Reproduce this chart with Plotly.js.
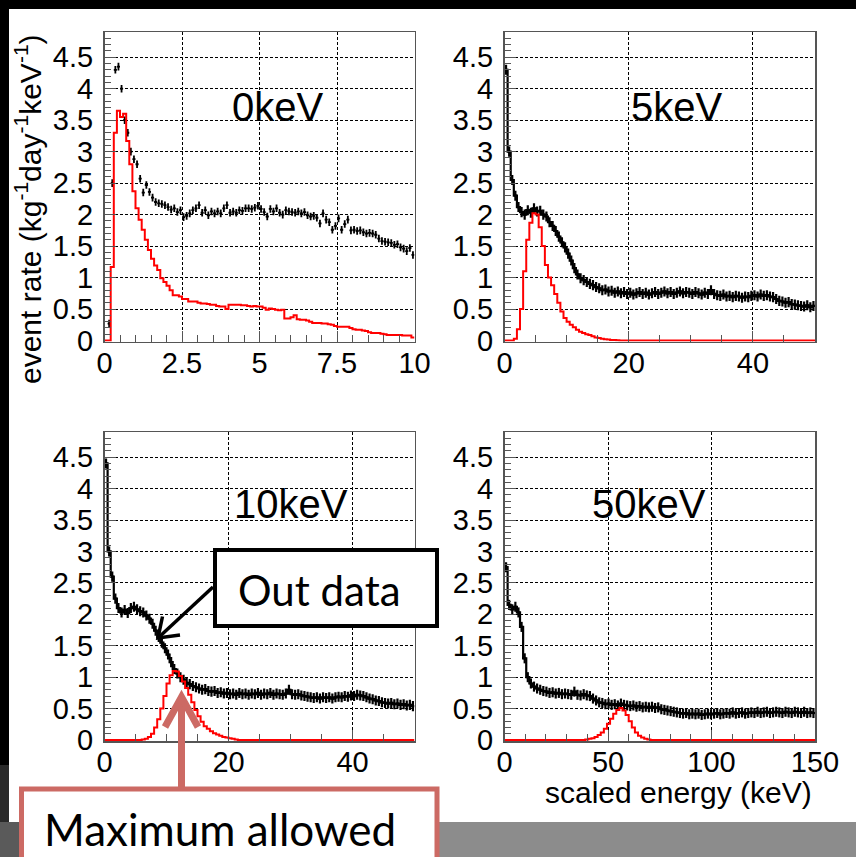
<!DOCTYPE html>
<html>
<head>
<meta charset="utf-8">
<script src="https://cdn.plot.ly/plotly-3.0.1.min.js"></script>
<style>
html,body{margin:0;padding:0;background:#000;}
#chart{width:856px;height:857px;}
</style>
</head>
<body>
<div id="chart"></div>
<script>
// ---------------- DATA ----------------
const panelLabels = ["0keV", "5keV", "10keV", "50keV"];
const binWidths = [0.1, 0.5, 0.5, 1.5];      // keV per bin
const xMaxima = [10, 50, 50, 150];            // keV
const xMajorTicks = [2.5, 20, 20, 50];
const xMinorTicks = [0.5, 5, 5, 10];
const blackErrors = [0.06, 0.08, 0.08, 0.08];

const black0keV = [null,0.27,2.5,4.3,4.35,4.0,3.5,3.3,3.0,2.88,
 2.8,2.57,2.35,2.47,2.36,2.27,2.2,2.18,2.17,2.15,
 2.12,2.08,2.1,2.04,2.07,1.96,1.98,2.02,2.07,2.1,
 2.15,2.03,2.07,1.99,2.05,2.02,2.05,2.02,2.1,2.15,
 2.03,2.05,2.03,2.07,2.06,2.1,2.1,2.09,2.11,2.14,
 2.09,2.04,1.97,2.09,2.05,2.1,2.03,2.0,2.07,2.05,
 2.04,2.03,2.05,2.02,2.04,1.99,1.97,1.98,1.95,1.86,
 2.02,1.92,1.88,1.76,1.82,1.94,1.76,1.85,1.92,1.75,
 1.76,1.74,1.75,1.72,1.7,1.71,1.7,1.68,1.62,1.58,
 1.57,1.56,1.55,1.52,1.53,1.48,1.46,1.42,1.47,1.36];
const red0keV = [0,0,1.17,3.3,3.65,3.55,3.6,3.17,2.8,2.37,
 2.1,1.92,1.76,1.6,1.44,1.3,1.19,1.12,0.99,0.93,
 0.87,0.8,0.72,0.72,0.7,0.66,0.66,0.62,0.62,0.62,
 0.6,0.59,0.59,0.58,0.57,0.57,0.55,0.54,0.54,0.5,
 0.57,0.57,0.57,0.57,0.56,0.56,0.55,0.54,0.55,0.54,
 0.54,0.52,0.49,0.51,0.5,0.49,0.48,0.49,0.35,0.35,
 0.37,0.4,0.34,0.33,0.33,0.32,0.3,0.28,0.28,0.28,
 0.27,0.27,0.26,0.25,0.23,0.22,0.22,0.22,0.22,0.2,
 0.18,0.17,0.17,0.16,0.15,0.13,0.12,0.12,0.12,0.11,
 0.1,0.09,0.09,0.09,0.09,0.09,0.08,0.08,0.08,0.05];

const black5keV = [4.3,3.0,2.55,2.3,2.12,2.04,2.0,2.07,2.03,2.1,
 2.05,2.06,2.0,1.97,1.88,1.82,1.74,1.65,1.56,1.48,
 1.38,1.27,1.15,1.05,0.99,0.96,0.93,0.9,0.88,0.85,
 0.83,0.8,0.81,0.78,0.79,0.76,0.78,0.75,0.77,0.74,
 0.76,0.73,0.75,0.77,0.74,0.76,0.73,0.75,0.77,0.74,
 0.76,0.78,0.75,0.77,0.74,0.76,0.78,0.75,0.77,0.76,
 0.74,0.77,0.75,0.73,0.76,0.74,0.8,0.74,0.72,0.71,
 0.73,0.7,0.71,0.69,0.71,0.7,0.68,0.7,0.69,0.71,
 0.72,0.7,0.73,0.71,0.72,0.7,0.69,0.66,0.63,0.62,
 0.6,0.61,0.58,0.57,0.56,0.55,0.54,0.56,0.53,0.55];
const red5keV = [0,0,0,0.03,0.18,0.5,1.1,1.6,1.87,2.02,
 2.0,1.8,1.5,1.2,1.0,0.88,0.74,0.6,0.46,0.36,
 0.3,0.25,0.21,0.17,0.14,0.12,0.1,0.09,0.07,0.05,
 0.04,0.03,0.02,0.015,0.01,0.01,0.005,0,0,0,
 0,0,0,0,0,0,0,0,0,0,
 0,0,0,0,0,0,0,0,0,0,
 0,0,0,0,0,0,0,0,0,0,
 0,0,0,0,0,0,0,0,0,0,
 0,0,0,0,0,0,0,0,0,0,
 0,0,0,0,0,0,0,0,0,0];

const black10keV = [4.4,3.0,2.6,2.25,2.1,2.03,2.07,2.02,2.1,2.12,
 2.08,2.05,2.03,1.98,1.93,1.85,1.74,1.64,1.55,1.46,
 1.36,1.24,1.13,1.06,1.0,0.96,0.91,0.89,0.86,0.84,
 0.82,0.8,0.81,0.78,0.77,0.78,0.75,0.76,0.74,0.75,
 0.73,0.74,0.72,0.75,0.73,0.74,0.72,0.74,0.73,0.75,
 0.72,0.74,0.73,0.75,0.72,0.74,0.73,0.72,0.74,0.8,
 0.73,0.72,0.73,0.71,0.7,0.69,0.68,0.67,0.68,0.66,
 0.68,0.67,0.68,0.66,0.68,0.69,0.68,0.7,0.69,0.71,
 0.7,0.72,0.71,0.7,0.68,0.66,0.65,0.63,0.62,0.6,
 0.59,0.58,0.59,0.57,0.58,0.56,0.57,0.55,0.56,0.54];
const red10keV = [0,0,0,0,0,0,0,0,0,0,
 0,0,0.01,0.02,0.05,0.1,0.2,0.33,0.5,0.7,
 0.9,1.03,1.1,1.09,1.02,0.93,0.83,0.72,0.6,0.48,
 0.38,0.29,0.22,0.18,0.14,0.11,0.09,0.07,0.05,0.04,
 0.03,0.02,0.01,0,0,0,0,0,0,0,
 0,0,0,0,0,0,0,0,0,0,
 0,0,0,0,0,0,0,0,0,0,
 0,0,0,0,0,0,0,0,0,0,
 0,0,0,0,0,0,0,0,0,0,
 0,0,0,0,0,0,0,0,0,0];

const black50keV = [2.75,2.15,2.08,2.12,2.03,1.8,1.3,1.0,0.9,0.85,
 0.82,0.8,0.78,0.77,0.75,0.76,0.74,0.75,0.73,0.74,
 0.73,0.72,0.77,0.72,0.71,0.73,0.71,0.7,0.66,0.63,
 0.6,0.59,0.57,0.58,0.56,0.57,0.55,0.58,0.56,0.55,
 0.54,0.55,0.53,0.54,0.52,0.53,0.52,0.53,0.51,0.52,
 0.49,0.48,0.47,0.46,0.45,0.44,0.43,0.42,0.43,0.41,
 0.42,0.41,0.42,0.4,0.41,0.42,0.41,0.42,0.43,0.41,
 0.42,0.43,0.42,0.44,0.42,0.43,0.44,0.42,0.43,0.44,
 0.43,0.45,0.43,0.44,0.45,0.43,0.44,0.45,0.44,0.43,
 0.45,0.44,0.43,0.45,0.44,0.43,0.45,0.43,0.44,0.43];
const red50keV = [0,0,0,0,0,0,0,0,0,0,
 0,0,0,0,0,0,0,0,0,0,
 0,0,0,0,0,0,0.01,0.02,0.03,0.05,
 0.08,0.12,0.18,0.26,0.34,0.42,0.48,0.51,0.47,0.4,
 0.3,0.2,0.12,0.07,0.04,0.02,0.01,0,0,0,
 0,0,0,0,0,0,0,0,0,0,
 0,0,0,0,0,0,0,0,0,0,
 0,0,0,0,0,0,0,0,0,0,
 0,0,0,0,0,0,0,0,0,0,
 0,0,0,0,0,0,0,0,0,0];

const blackSeries = [black0keV, black5keV, black10keV, black50keV];
const redSeries = [red0keV, red5keV, red10keV, red50keV];

const yTitle = "event rate (kg<sup>-1</sup>day<sup>-1</sup>keV<sup>-1</sup>)";
const xTitle = "scaled energy (keV)";
const boxOutText = "Out data";
const boxMaxText = "Maximum allowed";

// ---------------- LAYOUT HELPERS ----------------
const W = 856, H = 857;
const px = v => v / W;
const py = v => 1 - v / H;
// plot boxes in pixels [left, right, top, bottom]
const boxes = [[104.5, 414.5, 32, 341.5], [504.5, 815, 32, 341.5],
               [104.5, 414.5, 432, 741], [504.5, 815, 432, 741]];
const labelPos = [[277, 107], [676, 107], [291, 504], [649, 504]];
const barThickness = [1.8, 2.2, 2.2, 2.2];
const denseBand = [false, true, true, true];

const tickFont = {family: "Liberation Sans, Arial, sans-serif", size: 29, color: "#000"};
const frameColor = "#555";

const data = [];
const layout = {
  width: W, height: H,
  margin: {l: 0, r: 0, t: 0, b: 0},
  paper_bgcolor: "#000",
  plot_bgcolor: "#fff",
  showlegend: false,
  shapes: [],
  annotations: []
};

for (let i = 0; i < 4; i++) {
  const n = i === 0 ? "" : String(i + 1);
  const w = binWidths[i];
  const b = boxes[i];
  data.push({
    type: "scatter", mode: denseBand[i] ? "lines" : "markers",
    x0: w / 2, dx: w, y: blackSeries[i],
    xaxis: "x" + n, yaxis: "y" + n,
    marker: {size: 2, color: "#000"},
    line: {shape: "hvh", color: "#000", width: 2.2},
    error_x: {type: "constant", value: w / 2, width: 0, thickness: barThickness[i], color: "#000"},
    error_y: {type: "constant", value: blackErrors[i], width: 0, thickness: barThickness[i], color: "#000"},
    hoverinfo: "skip"
  });
  const r = redSeries[i];
  data.push({
    type: "scatter", mode: "lines",
    x0: 0, dx: w, y: r.concat([r[r.length - 1]]),
    xaxis: "x" + n, yaxis: "y" + n,
    line: {shape: "hv", color: "#ff0000", width: 2},
    hoverinfo: "skip"
  });
  layout["xaxis" + n] = {
    domain: [px(b[0]), px(b[1])], anchor: "y" + n,
    range: [0, xMaxima[i]], tick0: 0, dtick: xMajorTicks[i],
    ticks: "inside", ticklen: 11, tickwidth: 1, tickcolor: frameColor,
    minor: {dtick: xMinorTicks[i], ticks: "inside", ticklen: 7, tickwidth: 1, tickcolor: frameColor, showgrid: false},
    showline: true, linecolor: frameColor, linewidth: 1.5, mirror: true,
    showgrid: true, gridcolor: "#000", gridwidth: 1, griddash: "3px,2px",
    zeroline: false, tickfont: tickFont, ticklabelstandoff: -5, fixedrange: true
  };
  layout["yaxis" + n] = {
    domain: [py(b[3]), py(b[2])], anchor: "x" + n,
    range: [-0.015, 4.9], tick0: 0, dtick: 0.5,
    ticks: "inside", ticklen: 11, tickwidth: 1, tickcolor: frameColor,
    minor: {dtick: 0.1, ticks: "inside", ticklen: 6, tickwidth: 1, tickcolor: frameColor, showgrid: false},
    showline: true, linecolor: frameColor, linewidth: 1.5, mirror: true,
    showgrid: true, gridcolor: "#000", gridwidth: 1, griddash: "3px,2px",
    zeroline: false, tickfont: tickFont, ticklabelstandoff: 4, fixedrange: true
  };
  layout.annotations.push({
    xref: "paper", yref: "paper", x: px(labelPos[i][0]), y: py(labelPos[i][1]),
    xanchor: "center", yanchor: "middle", showarrow: false,
    text: panelLabels[i],
    font: {family: "Liberation Sans, Arial, sans-serif", size: 40, color: "#000"}
  });
}

// background pieces
layout.shapes.push(
  {type: "rect", xref: "paper", yref: "paper", x0: px(9), x1: 1, y0: py(822), y1: py(9),
   fillcolor: "#fff", line: {width: 0}, layer: "below"},
  {type: "rect", xref: "paper", yref: "paper", x0: 0, x1: 1, y0: 0, y1: py(822),
   fillcolor: "#8c8c8c", line: {width: 0}, layer: "below"},
  {type: "rect", xref: "paper", yref: "paper", x0: 0, x1: px(22), y0: 0, y1: py(822),
   fillcolor: "#5a5a5a", line: {width: 0}, layer: "below"},
  {type: "rect", xref: "paper", yref: "paper", x0: 0, x1: px(9), y0: py(822), y1: py(765),
   fillcolor: "#2a2a2a", line: {width: 0}, layer: "below"}
);

// "Out data" box and arrow
const salmon = "#cc6a64";
layout.shapes.push(
  {type: "rect", xref: "paper", yref: "paper", x0: px(215), x1: px(437), y0: py(626), y1: py(550),
   fillcolor: "#fff", line: {color: "#000", width: 4}, layer: "above"},
  {type: "line", xref: "paper", yref: "paper", x0: px(213), y0: py(587), x1: px(158), y1: py(638),
   line: {color: "#000", width: 3.5}, layer: "above"},
  {type: "path", xref: "paper", yref: "paper",
   path: `M ${px(180)} ${py(635)} L ${px(158)} ${py(638)} L ${px(162.5)} ${py(616.5)}`,
   line: {color: "#000", width: 3.5}, layer: "above"},
  // "Maximum allowed" box and arrow
  {type: "rect", xref: "paper", yref: "paper", x0: px(21.5), x1: px(437), y0: py(900), y1: py(789),
   fillcolor: "#fff", line: {color: salmon, width: 5}, layer: "above"},
  {type: "line", xref: "paper", yref: "paper", x0: px(181.5), y0: py(787), x1: px(181.5), y1: py(700),
   line: {color: salmon, width: 7}, layer: "above"},
  {type: "path", xref: "paper", yref: "paper",
   path: `M ${px(165)} ${py(727)} L ${px(181.5)} ${py(697)} L ${px(198)} ${py(727)}`,
   line: {color: salmon, width: 7}, layer: "above"}
);

layout.annotations.push(
  {xref: "paper", yref: "paper", x: px(319), y: py(590), xanchor: "center", yanchor: "middle",
   showarrow: false, text: boxOutText,
   font: {family: "Lato, 'Open Sans', sans-serif", size: 42, color: "#000"}},
  {xref: "paper", yref: "paper", x: px(42), y: py(829), xanchor: "left", yanchor: "middle",
   showarrow: false, text: boxMaxText,
   font: {family: "Lato, 'Open Sans', sans-serif", size: 44, color: "#000"}},
  {xref: "paper", yref: "paper", x: px(28), y: py(209), xanchor: "center", yanchor: "middle",
   showarrow: false, textangle: -90, text: yTitle,
   font: {family: "Liberation Sans, Arial, sans-serif", size: 30, color: "#000"}},
  {xref: "paper", yref: "paper", x: px(814), y: py(792), xanchor: "right", yanchor: "middle",
   showarrow: false, text: xTitle,
   font: {family: "Liberation Sans, Arial, sans-serif", size: 30, color: "#000"}}
);

Plotly.newPlot("chart", data, layout, {displayModeBar: false, staticPlot: true});
</script>
</body>
</html>
